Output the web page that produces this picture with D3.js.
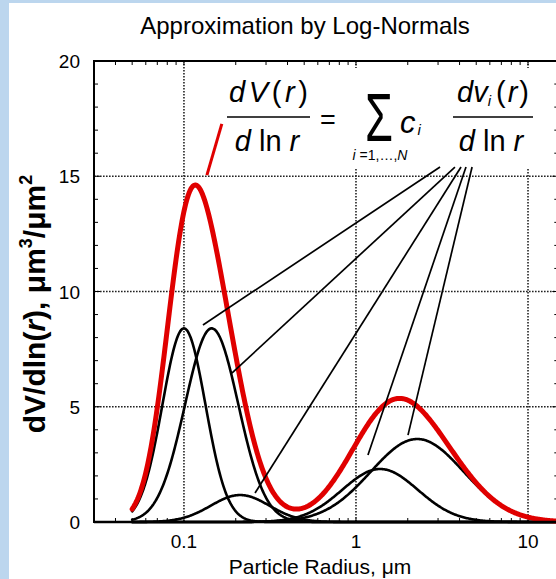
<!DOCTYPE html>
<html>
<head>
<meta charset="utf-8">
<script src="https://cdn.jsdelivr.net/npm/d3@7"></script>
<style>
  html, body { margin: 0; padding: 0; background: #ffffff; }
  svg { display: block; }
  text { font-family: "Liberation Sans", Arial, sans-serif; }
</style>
</head>
<body>
<script>
// ---------- data ----------
// log-normal components: peak height, median radius (µm), log10 width
const componentPeaks   = [8.4, 8.4, 1.17, 2.3, 3.6];
const componentMedians = [0.100, 0.145, 0.212, 1.38, 2.27];
const componentWidths  = [0.125, 0.155, 0.17, 0.22, 0.27];
const radiusRange = [0.05, 16];           // radii over which the curves are drawn
const xTickValues = [0.1, 1, 10];
const xTickLabels = ["0.1", "1", "10"];
const yTickValues = [0, 5, 10, 15, 20];
// pointer lines from the formula to the curves: [r1, v1, r2, v2]
const pointerLines = [
  [3.08, 15.40, 0.129, 8.55],
  [3.76, 15.40, 0.190, 6.46],
  [4.08, 15.40, 0.259, 1.26],
  [4.36, 15.40, 1.174, 2.91],
  [4.73, 15.40, 2.006, 3.77]
];
const redPointer = [0.136, 15.05, 0.166, 17.27];

// ---------- layout ----------
const W = 556, H = 579;
const svg = d3.select("body").append("svg").attr("width", W).attr("height", H);

// light blue frame strips
svg.append("rect").attr("x", 0).attr("y", 0).attr("width", W).attr("height", H).attr("fill", "#bcd6ee");
svg.append("rect").attr("x", 9).attr("y", 3).attr("width", W - 9).attr("height", H - 3).attr("fill", "#ffffff");

const x = d3.scaleLog().domain([0.03, 15]).range([94, 558.3]);
const y = d3.scaleLinear().domain([0, 20]).range([522, 61]);
const x0 = x.range()[0], x1 = x.range()[1], yb = y(0), yt = y(20);

// ---------- grid ----------
const grid = svg.append("g").attr("stroke", "#222").attr("stroke-width", 1.6).attr("stroke-dasharray", "1.6,1.4");
[5, 10, 15].forEach(v => grid.append("line").attr("x1", x0).attr("x2", x1).attr("y1", y(v)).attr("y2", y(v)));
xTickValues.forEach(v => grid.append("line").attr("x1", x(v)).attr("x2", x(v)).attr("y1", yt).attr("y2", yb));

// white box behind the formula
svg.append("rect").attr("x", 214).attr("y", 68).attr("width", 330).attr("height", 101).attr("fill", "#fff");

// ---------- minor ticks ----------
const ticks = svg.append("g").attr("stroke", "#000").attr("stroke-width", 1);
const minorX = [];
[0.01, 0.1, 1, 10].forEach(d => { for (let k = 1; k <= 9; k++) { const v = d * k; if (v > 0.03 && v < 15) minorX.push(v); } });
minorX.forEach(v => {
  ticks.append("line").attr("x1", x(v)).attr("x2", x(v)).attr("y1", yb).attr("y2", yb - 4);
  ticks.append("line").attr("x1", x(v)).attr("x2", x(v)).attr("y1", yt).attr("y2", yt + 4);
});
d3.range(0, 21).forEach(v => {
  const len = v % 5 === 0 ? 6 : 4;
  ticks.append("line").attr("x1", x0).attr("x2", x0 + len).attr("y1", y(v)).attr("y2", y(v));
  ticks.append("line").attr("x1", x1).attr("x2", x1 - len).attr("y1", y(v)).attr("y2", y(v));
});

// ---------- curves ----------
const logR = d3.range(Math.log10(radiusRange[0]), Math.log10(radiusRange[1]) + 1e-9, 0.005);
function comp(i, r) {
  const d = Math.log10(r) - Math.log10(componentMedians[i]);
  return componentPeaks[i] * Math.exp(-d * d / (2 * componentWidths[i] * componentWidths[i]));
}
const radii = logR.map(l => Math.pow(10, l));
const line = d3.line().x(d => x(d[0])).y(d => y(d[1])).curve(d3.curveLinear);

svg.append("defs").append("clipPath").attr("id", "plotclip")
  .append("rect").attr("x", x0).attr("y", yt).attr("width", x1 - x0).attr("height", yb - yt + 2);
const curves = svg.append("g").attr("clip-path", "url(#plotclip)");

componentPeaks.forEach((p, i) => {
  curves.append("path").datum(radii.map(r => [r, comp(i, r)]))
    .attr("d", line).attr("fill", "none").attr("stroke", "#000").attr("stroke-width", 2.6)
    .attr("stroke-linecap", "round");
});
const total = radii.map(r => [r, d3.sum(componentPeaks, (p, i) => comp(i, r))]);
curves.append("path").datum(total)
  .attr("d", line).attr("fill", "none").attr("stroke", "#e00000").attr("stroke-width", 5)
  .attr("stroke-linecap", "round").attr("stroke-linejoin", "round");

// ---------- frame ----------
svg.append("rect").attr("x", x0).attr("y", yt).attr("width", x1 - x0).attr("height", yb - yt)
  .attr("fill", "none").attr("stroke", "#000").attr("stroke-width", 2);
svg.append("line").attr("x1", x0).attr("x2", x1).attr("y1", yb).attr("y2", yb)
  .attr("stroke", "#000").attr("stroke-width", 2.6);

// ---------- pointer lines ----------
pointerLines.forEach(p => {
  svg.append("line").attr("x1", x(p[0])).attr("y1", y(p[1])).attr("x2", x(p[2])).attr("y2", y(p[3]))
    .attr("stroke", "#000").attr("stroke-width", 1.7);
});
svg.append("line").attr("x1", x(redPointer[0])).attr("y1", y(redPointer[1]))
  .attr("x2", x(redPointer[2])).attr("y2", y(redPointer[3]))
  .attr("stroke", "#e00000").attr("stroke-width", 3);

// ---------- tick labels ----------
xTickValues.forEach((v, i) => {
  svg.append("text").attr("x", x(v)).attr("y", 548).attr("text-anchor", "middle")
    .attr("font-size", 19).attr("fill", "#000").text(xTickLabels[i]);
});
yTickValues.forEach(v => {
  svg.append("text").attr("x", 80).attr("y", y(v) + 7).attr("text-anchor", "end")
    .attr("font-size", 19).attr("fill", "#000").text(v);
});

// ---------- titles ----------
svg.append("text").attr("x", 305).attr("y", 34).attr("text-anchor", "middle")
  .attr("font-size", 24).attr("fill", "#000").text("Approximation by Log-Normals");
svg.append("text").attr("x", 320).attr("y", 574).attr("text-anchor", "middle")
  .attr("font-size", 21).attr("fill", "#000").text("Particle Radius, μm");

const yt2 = svg.append("text").attr("transform", "translate(45,304) rotate(-90)")
  .attr("text-anchor", "middle").attr("font-size", 30).attr("font-weight", "bold").attr("fill", "#000");
yt2.append("tspan").text("dV/dln(");
yt2.append("tspan").attr("font-style", "italic").text("r");
yt2.append("tspan").text("), μm");
yt2.append("tspan").attr("font-size", 18).attr("dy", -13).text("3");
yt2.append("tspan").attr("dy", 13).text("/μm");
yt2.append("tspan").attr("font-size", 18).attr("dy", -13).text("2");

// ---------- formula ----------
const f = svg.append("g").attr("fill", "#000");
const FS = 29;
// left fraction
const n1 = f.append("text").attr("x", 229).attr("y", 102).attr("font-size", FS)
  .attr("textLength", 79).attr("lengthAdjust", "spacing");
n1.append("tspan").attr("font-style", "italic").text("dV");
n1.append("tspan").text("(");
n1.append("tspan").attr("font-style", "italic").text("r");
n1.append("tspan").text(")");
f.append("line").attr("x1", 227).attr("x2", 310).attr("y1", 117).attr("y2", 117).attr("stroke", "#000").attr("stroke-width", 1.6);
const d1 = f.append("text").attr("x", 267).attr("y", 151).attr("text-anchor", "middle").attr("font-size", FS);
d1.append("tspan").attr("font-style", "italic").text("d");
d1.append("tspan").text(" ln ");
d1.append("tspan").attr("font-style", "italic").text("r");

f.append("text").attr("x", 328).attr("y", 129).attr("text-anchor", "middle").attr("font-size", 27).text("=");
f.append("text").attr("x", 379).attr("y", 141).attr("text-anchor", "middle").attr("font-size", 68)
  .attr("textLength", 28).attr("lengthAdjust", "spacingAndGlyphs").text("Σ");
const lim = f.append("text").attr("x", 380).attr("y", 160).attr("text-anchor", "middle").attr("font-size", 14);
lim.append("tspan").attr("font-style", "italic").text("i");
lim.append("tspan").text(" =1,…,");
lim.append("tspan").attr("font-style", "italic").text("N");
const c = f.append("text").attr("x", 400).attr("y", 133).attr("font-size", 31).attr("font-style", "italic");
c.append("tspan").text("c");
c.append("tspan").attr("font-size", 15).attr("dy", 2).attr("dx", 2).text("i");

// right fraction
const n2 = f.append("text").attr("x", 457).attr("y", 102).attr("font-size", FS);
n2.append("tspan").attr("font-style", "italic").text("dv");
n2.append("tspan").attr("font-style", "italic").attr("font-size", 15).attr("dy", 4).text("i");
n2.append("tspan").attr("dy", -4).attr("dx", 5).text("(");
n2.append("tspan").attr("font-style", "italic").attr("dx", 2).text("r");
n2.append("tspan").attr("dx", 2).text(")");
f.append("line").attr("x1", 453).attr("x2", 533).attr("y1", 117).attr("y2", 117).attr("stroke", "#000").attr("stroke-width", 1.6);
const d2 = f.append("text").attr("x", 491).attr("y", 151).attr("text-anchor", "middle").attr("font-size", FS);
d2.append("tspan").attr("font-style", "italic").text("d");
d2.append("tspan").text(" ln ");
d2.append("tspan").attr("font-style", "italic").text("r");
</script>
</body>
</html>
